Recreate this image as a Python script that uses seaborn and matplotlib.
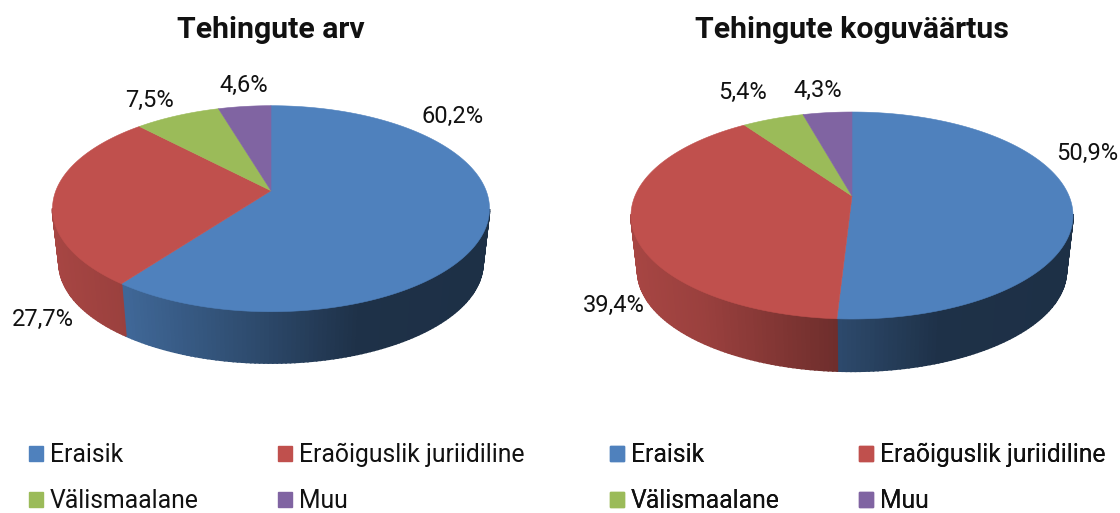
import numpy as np
import matplotlib
matplotlib.use('Agg')
import matplotlib.pyplot as plt
from matplotlib.patches import Patch
import seaborn as sns

# dados
categorias = ['Eraisik', 'Eraõiguslik juriidiline', 'Välismaalane', 'Muu']
valores_arv = [60.2, 27.7, 7.5, 4.6]
valores_vaartus = [50.9, 39.4, 5.4, 4.3]
rotulos_arv = ['60,2%', '27,7%', '7,5%', '4,6%']
rotulos_vaartus = ['50,9%', '39,4%', '5,4%', '4,3%']
titulo_arv = 'Tehingute arv'
titulo_vaartus = 'Tehingute koguväärtus'

cores = sns.color_palette(['#4f81bd', '#c0504d', '#9bbb59', '#8064a2'])

sns.set_theme(style='white')
plt.rcParams['font.family'] = ['Roboto', 'DejaVu Sans']


def projeta(u, v, cx, cy, acima, abaixo, meia_larg, desce=0.0):
    # circulo unitario -> elipse em perspectiva (centro fica acima do meio)
    k = (abaixo - acima) / (abaixo + acima)
    b = acima * (1 + k)
    a = meia_larg * np.sqrt(1 - k ** 2)
    esc = 0.97 if desce else 1.0
    x = cx + esc * a * u / (1 + k * v)
    y = cy - esc * b * v / (1 + k * v) + desce
    return x, y


def pizza_3d(ax, valores, cx, cy, acima, abaixo, meia_larg, desce):
    fim = np.cumsum(valores) / np.sum(valores) * 2 * np.pi
    ini = np.r_[0, fim[:-1]]

    # parede lateral, escurece da esquerda para a direita
    for t0, t1, cor in zip(ini, fim, cores):
        n = max(int((t1 - t0) / np.radians(1)), 2)
        ang = np.linspace(t0, t1, n + 1)
        for a0, a1 in zip(ang[:-1], ang[1:]):
            # so a parte da frente aparece
            if np.cos((a0 + a1) / 2) > -0.18:
                continue
            aa = np.array([a0, a1])
            x0, y0 = projeta(np.sin(aa), np.cos(aa), cx, cy, acima, abaixo, meia_larg)
            x1, y1 = projeta(np.sin(aa), np.cos(aa), cx, cy, acima, abaixo, meia_larg, desce)
            f = (x0.mean() - (cx - meia_larg)) / (2 * meia_larg)
            fator = np.interp(f, [0, 0.165, 0.47, 0.7, 1], [0.87, 0.8, 0.57, 0.38, 0.37])
            c = tuple(np.array(cor) * fator)
            ax.fill(np.r_[x0, x1[::-1]], np.r_[y0, y1[::-1]], color=c, lw=1.2)

    # face de cima
    for t0, t1, cor in zip(ini, fim, cores):
        ang = np.linspace(t0, t1, 200)
        x, y = projeta(np.sin(ang), np.cos(ang), cx, cy, acima, abaixo, meia_larg)
        ax.fill(np.r_[cx, x], np.r_[cy, y], color=cor, lw=0.4)


fig = plt.figure(figsize=(11.2, 5.13), dpi=100)
ax = fig.add_axes([0, 0, 1, 1])
ax.set_xlim(0, 1120)
ax.set_ylim(513, 0)
ax.axis('off')

pizza_3d(ax, valores_arv, 271, 190.7, 85, 121, 218.5, 55)
pizza_3d(ax, valores_vaartus, 852, 196, 84, 123, 221, 56)

ax.text(271, 30, titulo_arv, ha='center', va='center', fontsize=21.8, fontweight='bold', color='#111111')
ax.text(852, 30, titulo_vaartus, ha='center', va='center', fontsize=21.8, fontweight='bold', color='#111111')

pos_arv = [(453, 116), (43, 319), (150, 100), (244, 85)]
pos_vaartus = [(1087, 153), (614, 305), (743, 92), (818, 90)]
for rotulos, posicoes in [(rotulos_arv, pos_arv), (rotulos_vaartus, pos_vaartus)]:
    for r, (x, y) in zip(rotulos, posicoes):
        ax.text(x, y, r, ha='center', va='center', fontsize=17, color='#111111')

# legendas (ncol=2 preenche por coluna)
ordem = [0, 2, 1, 3]
alcas = [Patch(color=cores[i], label=categorias[i]) for i in ordem]
for x_leg in [29, 610]:
    ax.legend(handles=alcas, ncol=2, frameon=False, fontsize=17.8,
              loc='center left', bbox_to_anchor=(x_leg, 478), bbox_transform=ax.transData,
              handlelength=0.56, handleheight=0.56, handletextpad=0.28,
              columnspacing=3.2, labelspacing=0.9, borderaxespad=0, borderpad=0,
              labelcolor='#111111')
    ax.add_artist(ax.get_legend())

fig.savefig('out.png', dpi=100)
